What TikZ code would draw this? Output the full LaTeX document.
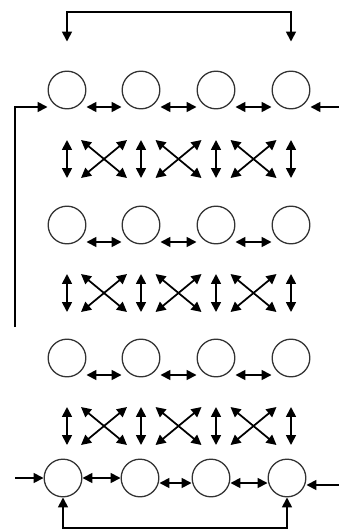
\documentclass[tikz,border=0pt]{standalone}
\usepackage{amsmath}
\usepackage{tikz}
\usetikzlibrary{arrows.meta, calc}
\tikzset{cell/.style = {shape = circle, draw = black!80, line width = 1.1pt, minimum size = 1.13cm, inner sep = 0pt}}
\tikzset{link/.style = {{Triangle[length = 8.5pt, width = 8.5pt]}-{Triangle[length = 8.5pt, width = 8.5pt]}, line width = 1.5pt}}
\tikzset{feed/.style = {-{Triangle[length = 8.5pt, width = 8.5pt]}, line width = 1.5pt}}

\begin{document}
\begin{tikzpicture}[x = 0.03cm, y = -0.03cm]
				\useasboundingbox (0, 0) rectangle (339, 531);

				\foreach \r/\y in {1/90, 2/225, 3/358}
					\foreach \c/\x in {1/67, 2/141, 3/216, 4/291}
						\node[cell] (c\r\c) at (\x, \y) {};
				\node[cell] (c41) at (63, 478) {};
				\node[cell] (c42) at (140, 478) {};
				\node[cell] (c43) at (211, 478) {};
				\node[cell] (c44) at (287, 478) {};

				\foreach \r in {1, 2, 3}
					\foreach \a/\b in {1/2, 2/3, 3/4}
						\draw[link] ([yshift = -0.51cm]c\r\a.east) to ([yshift = -0.51cm]c\r\b.west);
				\draw[link] (c41) to (c42);
				\draw[link] ([yshift = -0.15cm]c42.east) to ([yshift = -0.15cm]c43.west);
				\draw[link] ([yshift = -0.15cm]c43.east) to ([yshift = -0.15cm]c44.west);

				\foreach \g/\y in {1/159, 2/293, 3/426} {
					\foreach \c in {1, 2, 3, 4} {
						\coordinate (v\g\c) at (c1\c |- 0, \y);
						\draw[link] ([yshift = 0.57cm]v\g\c) to ([yshift = -0.57cm]v\g\c);
					}
					\foreach \a/\b in {1/2, 2/3, 3/4} {
						\coordinate (x\g\a) at ($(c1\a |- 0, \y)!0.5!(c1\b |- 0, \y)$);
						\draw[link] ([shift = {(-23, -19)}]x\g\a) to ([shift = {(23, 19)}]x\g\a);
						\draw[link] ([shift = {(-23, 19)}]x\g\a) to ([shift = {(23, -19)}]x\g\a);
					}
				}

				\draw[link, shorten <= 0.87cm, shorten >= 0.87cm] (c11.north) |- (c14 |- 0, 12) -- (c14.north);
				\draw[link] (c41.south) |- (c44 |- 0, 528) -- (c44.south);

				\coordinate (lb) at (15, 327);
				\coordinate (ri1) at (339, 107);
				\coordinate (li4) at (15, 478);
				\coordinate (ri4) at (339, 485);
				\draw[feed] (lb) |- ([yshift = -0.51cm]c11.west);
				\draw[feed] (ri1) to ([yshift = -0.51cm]c14.east);
				\draw[feed] (li4) to (c41.west);
				\draw[feed] (ri4) to ([yshift = -0.21cm]c44.east);
			\end{tikzpicture}
\end{document}
